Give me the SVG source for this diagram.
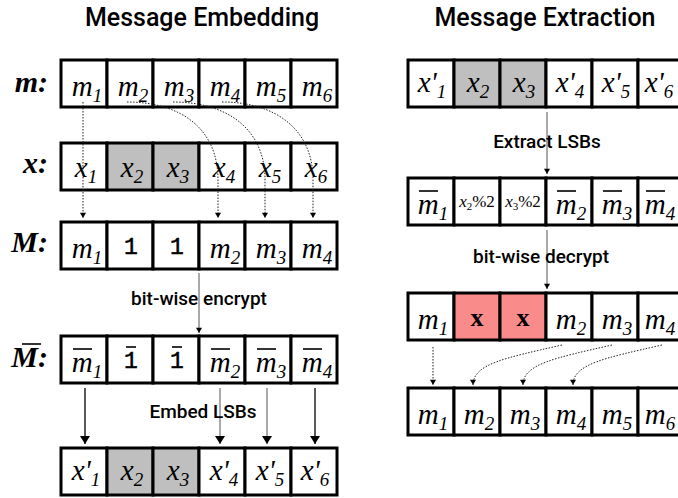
<svg xmlns="http://www.w3.org/2000/svg" width="678" height="498" viewBox="0 0 678 498">
<defs>
<style>
.cell{fill:#fff;stroke:#000;stroke-width:3}
.gray{fill:#bfbfbf}
.red{fill:#f98b8a}
.title{font-family:"Roboto","Liberation Sans",sans-serif;font-weight:500;font-size:25px;fill:#000;text-anchor:middle}
.lbl{font-family:"Roboto","Liberation Sans",sans-serif;font-weight:500;font-size:19px;fill:#000;text-anchor:middle}
.mi{font-family:"Liberation Serif","Times New Roman",serif;font-style:italic;font-size:29px;fill:#000;text-anchor:middle}
.sub{font-size:19px}
.sm{font-family:"Liberation Serif","Times New Roman",serif;font-size:17px;fill:#000;text-anchor:middle}
.smsub{font-size:11px}
.mono{font-family:"Liberation Mono","Courier New",monospace;font-size:23px;fill:#000;text-anchor:middle;stroke:#000;stroke-width:0.5}
.bx{font-family:"Liberation Serif","Times New Roman",serif;font-weight:bold;font-size:26px;fill:#000;text-anchor:middle}
.rowlbl{font-family:"Liberation Serif","Times New Roman",serif;font-style:italic;font-weight:bold;font-size:30px;fill:#000;text-anchor:end}
.bar{stroke:#000;stroke-width:1.6}
.dot{fill:none;stroke:#222;stroke-width:1;stroke-dasharray:1.5 1.5}
.arr{fill:none;stroke:#000;stroke-width:1.3}
.arrg{fill:none;stroke:#555;stroke-width:1}
</style>
<marker id="ah" viewBox="0 0 8 10" refX="8" refY="5" markerWidth="8" markerHeight="10" markerUnits="userSpaceOnUse" orient="auto"><path d="M0,0 L8,5 L0,10 z" fill="#000"/></marker>
<marker id="ahs" viewBox="0 0 7 8" refX="7" refY="4" markerWidth="7" markerHeight="6" markerUnits="userSpaceOnUse" orient="auto"><path d="M0,0 L7,4 L0,8 z" fill="#000"/></marker>
</defs>
<rect width="678" height="498" fill="#fff"/>

<text class="title" x="202" y="26">Message Embedding</text>
<text class="title" x="545" y="26">Message Extraction</text>

<!-- Left: m row -->
<g id="row-m">
<text class="rowlbl" x="48" y="92">m:</text>
<g id="m-1"><rect class="cell" x="61" y="60" width="46" height="47"/><text class="mi" x="87" y="96">m<tspan class="sub" dy="6">1</tspan></text></g>
<g id="m-2"><rect class="cell" x="107" y="60" width="46" height="47"/><text class="mi" x="133" y="96">m<tspan class="sub" dy="6">2</tspan></text></g>
<g id="m-3"><rect class="cell" x="153" y="60" width="46" height="47"/><text class="mi" x="179" y="96">m<tspan class="sub" dy="6">3</tspan></text></g>
<g id="m-4"><rect class="cell" x="199" y="60" width="46" height="47"/><text class="mi" x="225" y="96">m<tspan class="sub" dy="6">4</tspan></text></g>
<g id="m-5"><rect class="cell" x="245" y="60" width="46" height="47"/><text class="mi" x="271" y="96">m<tspan class="sub" dy="6">5</tspan></text></g>
<g id="m-6"><rect class="cell" x="291" y="60" width="46" height="47"/><text class="mi" x="317" y="96">m<tspan class="sub" dy="6">6</tspan></text></g>
</g>

<!-- Left: x row -->
<g id="row-x">
<text class="rowlbl" x="48" y="173">x:</text>
<g id="x-1"><rect class="cell" x="61" y="143" width="46" height="47"/><text class="mi" x="86" y="177">x<tspan class="sub" dy="6">1</tspan></text></g>
<g id="x-2"><rect class="cell gray" x="107" y="143" width="46" height="47"/><text class="mi" x="132" y="177">x<tspan class="sub" dy="6">2</tspan></text></g>
<g id="x-3"><rect class="cell gray" x="153" y="143" width="46" height="47"/><text class="mi" x="178" y="177">x<tspan class="sub" dy="6">3</tspan></text></g>
<g id="x-4"><rect class="cell" x="199" y="143" width="46" height="47"/><text class="mi" x="224" y="177">x<tspan class="sub" dy="6">4</tspan></text></g>
<g id="x-5"><rect class="cell" x="245" y="143" width="46" height="47"/><text class="mi" x="270" y="177">x<tspan class="sub" dy="6">5</tspan></text></g>
<g id="x-6"><rect class="cell" x="291" y="143" width="46" height="47"/><text class="mi" x="316" y="177">x<tspan class="sub" dy="6">6</tspan></text></g>
</g>

<!-- Left: M row -->
<g id="row-M">
<text class="rowlbl" x="48" y="252">M:</text>
<g id="M-1"><rect class="cell" x="61" y="222" width="46" height="47"/><text class="mi" x="87" y="258">m<tspan class="sub" dy="6">1</tspan></text></g>
<g id="M-2"><rect class="cell" x="107" y="222" width="46" height="47"/><text class="mono" x="131" y="254">1</text></g>
<g id="M-3"><rect class="cell" x="153" y="222" width="46" height="47"/><text class="mono" x="177" y="254">1</text></g>
<g id="M-4"><rect class="cell" x="199" y="222" width="46" height="47"/><text class="mi" x="225" y="258">m<tspan class="sub" dy="6">2</tspan></text></g>
<g id="M-5"><rect class="cell" x="245" y="222" width="46" height="47"/><text class="mi" x="271" y="258">m<tspan class="sub" dy="6">3</tspan></text></g>
<g id="M-6"><rect class="cell" x="291" y="222" width="46" height="47"/><text class="mi" x="317" y="258">m<tspan class="sub" dy="6">4</tspan></text></g>
</g>

<!-- Left: M-bar row -->
<g id="row-Mbar">
<text class="rowlbl" x="48" y="367">M:</text><line class="bar" x1="22" y1="344" x2="41" y2="344"/>
<g id="Mb-1"><rect class="cell" x="61" y="336" width="46" height="47"/><text class="mi" x="87" y="372">m<tspan class="sub" dy="6">1</tspan></text><line class="bar" x1="73" y1="349" x2="92" y2="349"/></g>
<g id="Mb-2"><rect class="cell" x="107" y="336" width="46" height="47"/><text class="mono" x="131" y="368">1</text><line class="bar" x1="126" y1="347" x2="136" y2="347"/></g>
<g id="Mb-3"><rect class="cell" x="153" y="336" width="46" height="47"/><text class="mono" x="177" y="368">1</text><line class="bar" x1="172" y1="347" x2="182" y2="347"/></g>
<g id="Mb-4"><rect class="cell" x="199" y="336" width="46" height="47"/><text class="mi" x="225" y="372">m<tspan class="sub" dy="6">2</tspan></text><line class="bar" x1="211" y1="349" x2="230" y2="349"/></g>
<g id="Mb-5"><rect class="cell" x="245" y="336" width="46" height="47"/><text class="mi" x="271" y="372">m<tspan class="sub" dy="6">3</tspan></text><line class="bar" x1="257" y1="349" x2="276" y2="349"/></g>
<g id="Mb-6"><rect class="cell" x="291" y="336" width="46" height="47"/><text class="mi" x="317" y="372">m<tspan class="sub" dy="6">4</tspan></text><line class="bar" x1="303" y1="349" x2="322" y2="349"/></g>
</g>

<!-- Left: x' row -->
<g id="row-xp">
<g id="xp-1"><rect class="cell" x="61" y="448" width="46" height="47"/><text class="mi" x="86" y="480">x'<tspan class="sub" dy="6">1</tspan></text></g>
<g id="xp-2"><rect class="cell gray" x="107" y="448" width="46" height="47"/><text class="mi" x="132" y="480">x<tspan class="sub" dy="6">2</tspan></text></g>
<g id="xp-3"><rect class="cell gray" x="153" y="448" width="46" height="47"/><text class="mi" x="178" y="480">x<tspan class="sub" dy="6">3</tspan></text></g>
<g id="xp-4"><rect class="cell" x="199" y="448" width="46" height="47"/><text class="mi" x="224" y="480">x'<tspan class="sub" dy="6">4</tspan></text></g>
<g id="xp-5"><rect class="cell" x="245" y="448" width="46" height="47"/><text class="mi" x="270" y="480">x'<tspan class="sub" dy="6">5</tspan></text></g>
<g id="xp-6"><rect class="cell" x="291" y="448" width="46" height="47"/><text class="mi" x="315" y="480">x'<tspan class="sub" dy="6">6</tspan></text></g>
</g>

<!-- Right: row 1 -->
<g id="r1">
<g id="r1-1"><rect class="cell" x="408" y="60" width="46" height="47"/><text class="mi" x="432" y="92">x'<tspan class="sub" dy="6">1</tspan></text></g>
<g id="r1-2"><rect class="cell gray" x="454" y="60" width="46" height="47"/><text class="mi" x="478" y="92">x<tspan class="sub" dy="6">2</tspan></text></g>
<g id="r1-3"><rect class="cell gray" x="500" y="60" width="46" height="47"/><text class="mi" x="524" y="92">x<tspan class="sub" dy="6">3</tspan></text></g>
<g id="r1-4"><rect class="cell" x="546" y="60" width="46" height="47"/><text class="mi" x="570" y="92">x'<tspan class="sub" dy="6">4</tspan></text></g>
<g id="r1-5"><rect class="cell" x="592" y="60" width="46" height="47"/><text class="mi" x="616" y="92">x'<tspan class="sub" dy="6">5</tspan></text></g>
<g id="r1-6"><rect class="cell" x="638" y="60" width="46" height="47"/><text class="mi" x="659" y="92">x'<tspan class="sub" dy="6">6</tspan></text></g>
</g>

<!-- Right: row 2 -->
<g id="r2">
<g id="r2-1"><rect class="cell" x="408" y="178" width="46" height="47"/><text class="mi" x="433" y="214">m<tspan class="sub" dy="6">1</tspan></text><line class="bar" x1="419" y1="191" x2="438" y2="191"/></g>
<g id="r2-2"><rect class="cell" x="454" y="178" width="46" height="47"/><text class="sm" x="477" y="207"><tspan font-style="italic">x</tspan><tspan class="smsub" dy="3">2</tspan><tspan dy="-3">%2</tspan></text></g>
<g id="r2-3"><rect class="cell" x="500" y="178" width="46" height="47"/><text class="sm" x="523" y="207"><tspan font-style="italic">x</tspan><tspan class="smsub" dy="3">3</tspan><tspan dy="-3">%2</tspan></text></g>
<g id="r2-4"><rect class="cell" x="546" y="178" width="46" height="47"/><text class="mi" x="571" y="214">m<tspan class="sub" dy="6">2</tspan></text><line class="bar" x1="557" y1="191" x2="576" y2="191"/></g>
<g id="r2-5"><rect class="cell" x="592" y="178" width="46" height="47"/><text class="mi" x="617" y="214">m<tspan class="sub" dy="6">3</tspan></text><line class="bar" x1="603" y1="191" x2="622" y2="191"/></g>
<g id="r2-6"><rect class="cell" x="638" y="178" width="46" height="47"/><text class="mi" x="660" y="214">m<tspan class="sub" dy="6">4</tspan></text><line class="bar" x1="646" y1="191" x2="665" y2="191"/></g>
</g>

<!-- Right: row 3 -->
<g id="r3">
<g id="r3-1"><rect class="cell" x="408" y="293" width="46" height="47"/><text class="mi" x="433" y="329">m<tspan class="sub" dy="6">1</tspan></text></g>
<g id="r3-2"><rect class="cell red" x="454" y="293" width="46" height="47"/><text class="bx" x="477" y="326">x</text></g>
<g id="r3-3"><rect class="cell red" x="500" y="293" width="46" height="47"/><text class="bx" x="523" y="326">x</text></g>
<g id="r3-4"><rect class="cell" x="546" y="293" width="46" height="47"/><text class="mi" x="571" y="329">m<tspan class="sub" dy="6">2</tspan></text></g>
<g id="r3-5"><rect class="cell" x="592" y="293" width="46" height="47"/><text class="mi" x="617" y="329">m<tspan class="sub" dy="6">3</tspan></text></g>
<g id="r3-6"><rect class="cell" x="638" y="293" width="46" height="47"/><text class="mi" x="660" y="329">m<tspan class="sub" dy="6">4</tspan></text></g>
</g>

<!-- Right: row 4 -->
<g id="r4">
<g id="r4-1"><rect class="cell" x="408" y="388" width="46" height="47"/><text class="mi" x="433" y="424">m<tspan class="sub" dy="6">1</tspan></text></g>
<g id="r4-2"><rect class="cell" x="454" y="388" width="46" height="47"/><text class="mi" x="479" y="424">m<tspan class="sub" dy="6">2</tspan></text></g>
<g id="r4-3"><rect class="cell" x="500" y="388" width="46" height="47"/><text class="mi" x="525" y="424">m<tspan class="sub" dy="6">3</tspan></text></g>
<g id="r4-4"><rect class="cell" x="546" y="388" width="46" height="47"/><text class="mi" x="571" y="424">m<tspan class="sub" dy="6">4</tspan></text></g>
<g id="r4-5"><rect class="cell" x="592" y="388" width="46" height="47"/><text class="mi" x="617" y="424">m<tspan class="sub" dy="6">5</tspan></text></g>
<g id="r4-6"><rect class="cell" x="638" y="388" width="46" height="47"/><text class="mi" x="660" y="424">m<tspan class="sub" dy="6">6</tspan></text></g>
</g>

<!-- connectors -->
<g id="connectors">
<path class="dot" d="M83,102 L83,218" marker-end="url(#ahs)"/>
<path class="dot" d="M127,102 C180,102 218,128 218,180 L218,218" marker-end="url(#ahs)"/>
<path class="dot" d="M173,102 C226,102 265,128 265,180 L265,218" marker-end="url(#ahs)"/>
<path class="dot" d="M222,102 C274,102 313,128 313,180 L313,218" marker-end="url(#ahs)"/>
<path class="arrg" d="M199,273 L199,333" marker-end="url(#ahs)"/>
<path class="arr" d="M85,388 L85,444" marker-end="url(#ah)"/>
<path class="arrg" d="M220,388 L220,444" marker-end="url(#ah)"/>
<path class="arrg" d="M267,388 L267,444" marker-end="url(#ah)"/>
<path class="arr" d="M315,388 L315,444" marker-end="url(#ah)"/>
<path class="arrg" d="M547,112 L547,174" marker-end="url(#ahs)"/>
<path class="arrg" d="M547,230 L547,289" marker-end="url(#ahs)"/>
<path class="dot" d="M433,347 L433,385" marker-end="url(#ahs)"/>
<path class="dot" d="M562,345 C505,358 473,364 473,385" marker-end="url(#ahs)"/>
<path class="dot" d="M612,345 C555,358 523,364 523,385" marker-end="url(#ahs)"/>
<path class="dot" d="M662,345 C605,358 573,364 573,385" marker-end="url(#ahs)"/>
</g>

<text class="lbl" x="199" y="305">bit-wise encrypt</text>
<text class="lbl" x="203" y="418">Embed LSBs</text>
<text class="lbl" x="547" y="148">Extract LSBs</text>
<text class="lbl" x="541" y="263">bit-wise decrypt</text>
</svg>
